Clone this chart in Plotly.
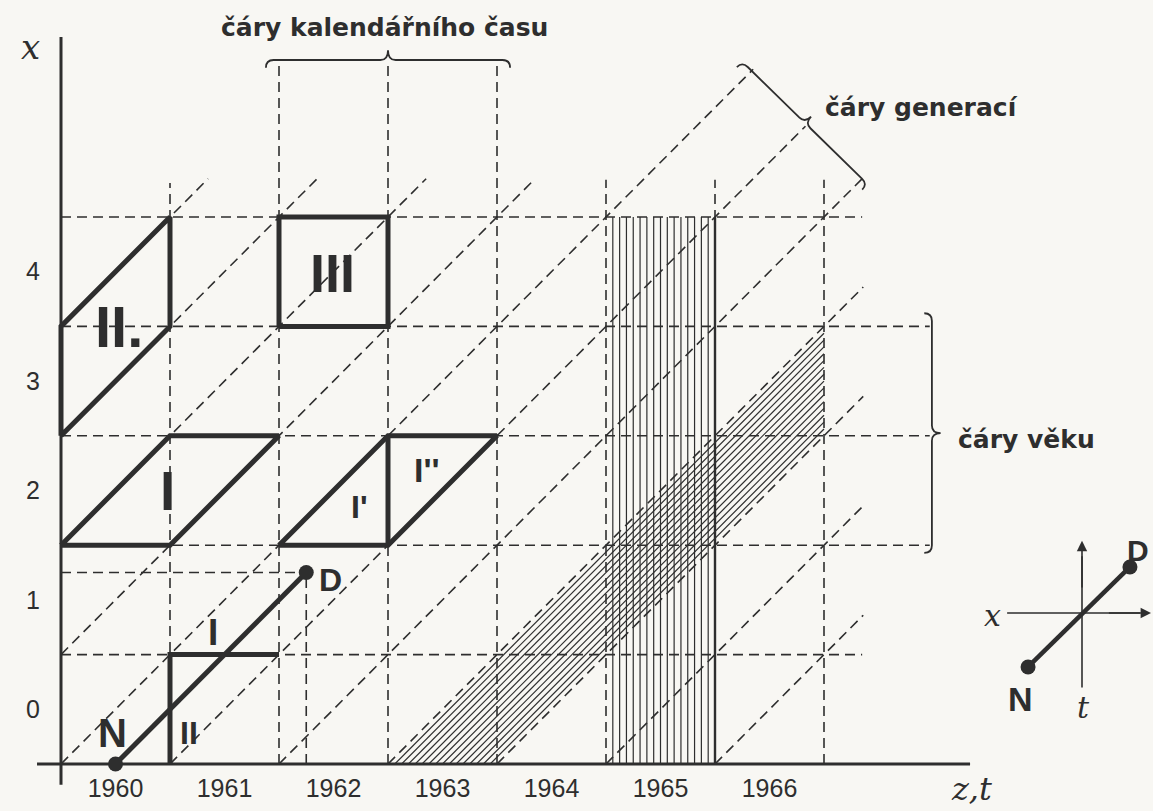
import numpy as np
import plotly.graph_objects as go

# ---------------- data ----------------
years = [1960, 1961, 1962, 1963, 1964, 1965, 1966]
age_labels = [0, 1, 2, 3, 4]

# calendar-time lines (t = years since 1.1.1960) and their upper ends (age)
cal_t = [1, 2, 3, 4, 5, 6, 7]
cal_top = [5.31, 6.42, 6.42, 6.42, 5.34, 5.34, 5.34]

# age lines and their right ends (t)
age_x = [1, 2, 3, 4, 5]
age_end = [7.35, 7.97, 7.97, 7.97, 7.35]

# generation lines t - x = k and their right ends (t)
gen_k = [-4, -3, -2, -1, 0, 1, 2, 3, 4, 5, 6]
gen_end_t = [1.35, 2.35, 3.35, 4.35, 6.35, 6.83, 7.35, 7.36, 7.36, 7.36, 7.36]

# life line N -> D
life_N = (0.5, 0.0)
life_D = (2.25, 1.75)

# highlighted fields (t, x) polygons
field_I = [(0, 2), (1, 2), (2, 3), (1, 3), (0, 2)]
field_II = [(0, 3), (1, 4), (1, 5), (0, 4), (0, 3)]
field_III = [(2, 4), (3, 4), (3, 5), (2, 5), (2, 4)]
field_I12 = [(2, 2), (3, 2), (4, 3), (3, 3), (2, 2)]
field_I12_mid = [(3, 2), (3, 3)]
corner_L = [(1, 0), (1, 1), (2, 1)]

# hatched cohort band (generation 1963) and hatched calendar column (1965)
band_k = (3, 4)
band_t_end = 7
column_t = (5, 6)
column_top = 5
hatch_n = 16

# inset
inset_c = (9.367, 1.38)
inset_N = (8.872, 0.887)
inset_D = (9.807, 1.801)

# ---------------- style ----------------
BG = "#f8f7f3"
INK = "#2e2e2e"
DASH = "10px,6px"
PXX, PXY = 109.0, 109.4
X0, X1 = -61 / PXX, (1153 - 61) / PXX
Y0, Y1 = (764 - 811) / PXY, 764 / PXY

fig = go.Figure()


def add_segs(segs, width, dash=None, color=INK):
    xs, ys = [], []
    for seg in segs:
        for (px, py) in seg:
            xs.append(px)
            ys.append(py)
        xs.append(None)
        ys.append(None)
    fig.add_trace(go.Scatter(x=xs, y=ys, mode="lines",
                             line=dict(color=color, width=width, dash=dash),
                             hoverinfo="skip", showlegend=False))


# hatching: cohort band
k0, k1 = band_k
hatch = []
for k in np.linspace(k0, k1, hatch_n + 1)[1:-1]:
    hatch.append([(k, 0), (band_t_end, band_t_end - k)])
add_segs(hatch, 1.2)
# hatching: calendar column
c0, c1 = column_t
hatch = []
for t in np.linspace(c0, c1, hatch_n + 1)[1:-1]:
    hatch.append([(t, 0), (t, column_top)])
add_segs(hatch, 1.2)

# dashed grid
segs = []
for t, top in zip(cal_t, cal_top):
    segs.append([(t, 0), (t, top)])
for a, e in zip(age_x, age_end):
    segs.append([(0, a), (e, a)])
for k, e in zip(gen_k, gen_end_t):
    start = (k, 0) if k >= 0 else (0, -k)
    segs.append([start, (e, e - k)])
segs.append([(0, life_D[1]), life_D])
segs.append([(life_D[0], 0), life_D])
add_segs(segs, 1.6, DASH)

# column right edge
add_segs([[(c1, 0), (c1, column_top)]], 2.4)

# thick fields
add_segs([field_I, field_II, field_III, field_I12, field_I12_mid, corner_L], 5.0)

# axes
add_segs([[(-0.22, 0), (8.34, 0)], [(0, -0.19), (0, 6.645)]], 3.0)

# life line
fig.add_trace(go.Scatter(x=[life_N[0], life_D[0]], y=[life_N[1], life_D[1]], mode="lines+markers",
                         line=dict(color=INK, width=5), marker=dict(size=15, color=INK),
                         hoverinfo="skip", showlegend=False))

# inset
add_segs([[(inset_c[0], 0.70), (inset_c[0], 1.9)], [(8.68, inset_c[1]), (9.9, inset_c[1])]], 1.6)
fig.add_trace(go.Scatter(x=[inset_N[0], inset_D[0]], y=[inset_N[1], inset_D[1]], mode="lines+markers",
                         line=dict(color=INK, width=4.5), marker=dict(size=15, color=INK),
                         hoverinfo="skip", showlegend=False))

annotations = []
# inset arrows
annotations.append(dict(x=inset_c[0], y=2.04, ax=inset_c[0], ay=1.6, xref="x", yref="y", axref="x", ayref="y",
                        text="", showarrow=True, arrowhead=2, arrowsize=1.3, arrowwidth=1.6, arrowcolor=INK))
annotations.append(dict(x=10.0, y=inset_c[1], ax=9.6, ay=inset_c[1], xref="x", yref="y", axref="x", ayref="y",
                        text="", showarrow=True, arrowhead=2, arrowsize=1.3, arrowwidth=1.6, arrowcolor=INK))


def txt(x, y, s, size, family="DejaVu Sans", bold=True, italic=False, xanchor="center"):
    t = s
    if bold:
        t = "<b>" + t + "</b>"
    if italic:
        t = "<i>" + t + "</i>"
    annotations.append(dict(x=x, y=y, xref="x", yref="y", text=t, showarrow=False,
                            xanchor=xanchor, yanchor="middle",
                            font=dict(family=family, size=size, color=INK)))


ROMAN = "Liberation Sans Narrow, Liberation Sans"
txt(0.98, 2.5, "I", 55, ROMAN)
txt(0.53, 4.0, "II.", 58, ROMAN)
txt(2.49, 4.49, "III", 54, ROMAN)
txt(1.39, 1.2, "I", 37, ROMAN)
txt(1.17, 0.28, "II", 32, ROMAN)
txt(2.74, 2.35, "I'", 32, ROMAN)
txt(3.36, 2.69, "I''", 34, ROMAN)
txt(0.47, 0.28, "N", 40, ROMAN)
txt(2.47, 1.68, "D", 32, ROMAN)
txt(8.80, 0.59, "N", 34, ROMAN)
txt(10.0, 1.95, "D", 30, ROMAN, xanchor="right")

txt(2.97, 6.73, "čáry kalendářního času", 25)
txt(6.99, 6.0, "čáry generací", 25, xanchor="left")
txt(8.21, 2.97, "čáry věku", 25, xanchor="left")

SERIF = "DejaVu Serif"
txt(-0.28, 6.55, "x", 34, SERIF, bold=False, italic=True)
txt(8.35, -0.23, "z,t", 32, SERIF, bold=False, italic=True)
txt(8.55, 1.36, "x", 30, SERIF, bold=False, italic=True)
txt(9.38, 0.52, "t", 30, SERIF, bold=False, italic=True)


def brace(p0, p1, n, hook, tip):
    p0 = np.array(p0, float)
    p1 = np.array(p1, float)
    n = np.array(n, float)
    n = n / np.linalg.norm(n)
    u = (p1 - p0) / np.linalg.norm(p1 - p0)
    m = (p0 + p1) / 2
    a = p0 - n * hook
    b = p0 + u * hook
    c = m - u * hook
    tp = m + n * tip
    d = m + u * hook
    e = p1 - u * hook
    f = p1 - n * hook
    P = lambda q: f"{q[0]:.4f},{q[1]:.4f}"
    path = (f"M {P(a)} Q {P(p0)} {P(b)} L {P(c)} Q {P(m)} {P(tp)} "
            f"Q {P(m)} {P(d)} L {P(e)} Q {P(p1)} {P(f)}")
    return dict(type="path", path=path, xref="x", yref="y", line=dict(color=INK, width=1.8))


shapes = [
    brace((1.88, 6.435), (4.12, 6.435), (0, 1), 0.07, 0.09),
    brace((7.99, 4.12), (7.99, 1.93), (1, 0), 0.07, 0.08),
    brace((6.25, 6.42), (7.40, 5.30), (1, 1), 0.07, 0.08),
]

fig.update_layout(
    width=1153, height=811, margin=dict(l=0, r=0, t=0, b=0),
    paper_bgcolor=BG, plot_bgcolor=BG, showlegend=False,
    annotations=annotations, shapes=shapes,
    xaxis=dict(range=[X0, X1], anchor="free", position=(811 - 764) / 811,
               showgrid=False, zeroline=False, showline=False,
               tickvals=[y - years[0] + 0.5 for y in years], ticktext=[str(y) for y in years],
               ticks="outside", ticklen=2, tickcolor="rgba(0,0,0,0)",
               tickfont=dict(family="Liberation Sans", size=25, color=INK)),
    yaxis=dict(range=[Y0, Y1], anchor="free", position=61 / 1153,
               showgrid=False, zeroline=False, showline=False,
               tickvals=[a + 0.5 for a in age_labels], ticktext=[str(a) for a in age_labels],
               ticks="outside", ticklen=16, tickcolor="rgba(0,0,0,0)",
               tickfont=dict(family="Liberation Sans", size=25, color=INK)),
)

fig.write_html("out.html", config={"displayModeBar": False},
               post_script="document.body.style.margin='0';document.body.style.overflow='hidden';")
